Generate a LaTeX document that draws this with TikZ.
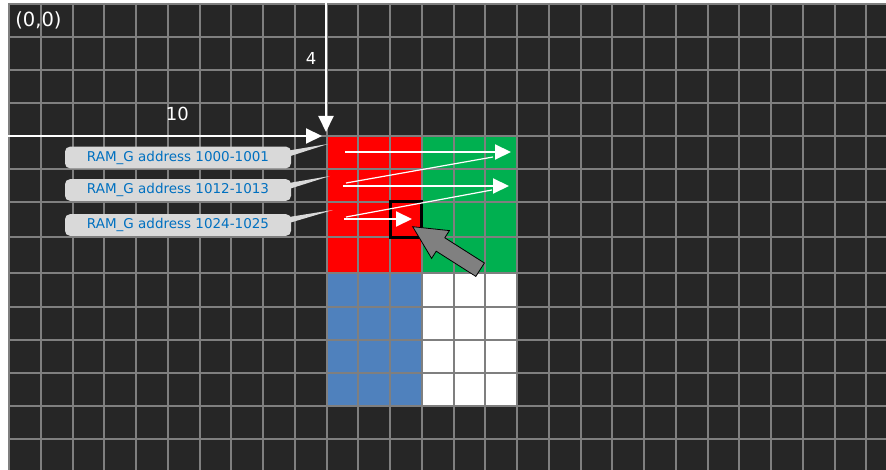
\documentclass[tikz,border=0pt]{standalone}
\usepackage{fontspec}
\setmainfont{DejaVu Sans}
\usetikzlibrary{arrows.meta,calc}
\definecolor{bg}{HTML}{262626}
\definecolor{gridc}{HTML}{7F7F7F}
\definecolor{cred}{HTML}{FF0000}
\definecolor{cgreen}{HTML}{00B050}
\definecolor{cblue}{HTML}{4F81BD}
\definecolor{cbox}{HTML}{D9D9D9}
\definecolor{ctext}{HTML}{0070C0}
\definecolor{carrow}{HTML}{808080}
\begin{document}
\begin{tikzpicture}[x=1pt,y=-1pt,
  gridline/.style={gridc,line width=2pt},
  whitearrow/.style={white,line width=2pt,-{Triangle[length=16pt,width=15pt]}},
  scanline/.style={white,line width=1.2pt},
  callout/.style={fill=cbox,rounded corners=5pt,minimum width=226pt,minimum height=21.7pt,inner sep=0pt,text=ctext,font=\fontsize{13.5}{16}\selectfont},
  axislabel/.style={text=white,inner sep=0pt}
]
\useasboundingbox (0,0) rectangle (886,470);
\fill[white] (0,0) rectangle (886,470);
\fill[bg] (8,3) rectangle (886,470);
% coloured cells
\fill[cred] (326,136) rectangle (421.75,273);
\fill[cgreen] (421.75,136) rectangle (517,273);
\fill[cblue] (326,273) rectangle (421.75,406);
\fill[white] (421.75,273) rectangle (517,406);
% grid
\foreach \i in {0,...,27} \draw[gridline] ({9+31.75*\i},3) -- ({9+31.75*\i},470);
\foreach \y in {4,37,70,103,136,169,202,237.5,273,307,340,373,406,439} \draw[gridline] (8,\y) -- (886,\y);
% highlighted cell
\draw[black,line width=3pt] (390,202) rectangle (421.75,237.5);
% labels
\node[axislabel,font=\fontsize{19.5}{23}\selectfont] (origin) at (38.5,20) {(0,0)};
\node[axislabel,font=\fontsize{16.5}{19}\selectfont] (lblfour) at (311,58.7) {4};
\node[axislabel,font=\fontsize{18}{21}\selectfont] (lblten) at (177.3,114.2) {10};
% axis arrows
\coordinate (vtop) at (326,3);
\coordinate (vend) at (326,132);
\draw[whitearrow] (vtop) -- (vend);
\coordinate (hleft) at (8,136);
\coordinate (hend) at (322,136);
\draw[whitearrow] (hleft) -- (hend);
% scan arrows
\coordinate (a1s) at (345,152); \coordinate (a1e) at (511,152);
\coordinate (d1s) at (346,183); \coordinate (d1e) at (493,157);
\coordinate (a2s) at (343,186); \coordinate (a2e) at (509,186);
\coordinate (d2s) at (346,217); \coordinate (d2e) at (492,190);
\coordinate (a3s) at (344,219); \coordinate (a3e) at (412,219);
\draw[scanline] (d1s) -- (d1e);
\draw[scanline] (d2s) -- (d2e);
\draw[whitearrow] (a1s) -- (a1e);
\draw[whitearrow] (a2s) -- (a2e);
\draw[whitearrow] (a3s) -- (a3e);
% gray block arrow
\draw[fill=carrow,draw=black,line width=0.8pt,line join=miter]
  (412.7,226.7) -- (449.4,230.6) -- (444.8,237.8) -- (484.4,263.0) -- (475.8,276.4) -- (436.2,251.2) -- (431.6,258.4) -- cycle;
% callouts
\node[callout] (c1) at (178,157.5) {RAM\_G address 1000-1001};
\node[callout] (c2) at (178,190) {RAM\_G address 1012-1013};
\node[callout] (c3) at (178,225) {RAM\_G address 1024-1025};
\coordinate (t1) at (328,144);
\coordinate (t2) at (330,176);
\coordinate (t3) at (333,210);
\fill[cbox] ($(c1.north east)+(-2,4)$) -- (t1) -- ($(c1.north east)+(-2,10)$) -- cycle;
\fill[cbox] ($(c2.north east)+(-2,4)$) -- (t2) -- ($(c2.north east)+(-2,10)$) -- cycle;
\fill[cbox] ($(c3.north east)+(-2,3)$) -- (t3) -- ($(c3.north east)+(-2,9)$) -- cycle;
\end{tikzpicture}
\end{document}
